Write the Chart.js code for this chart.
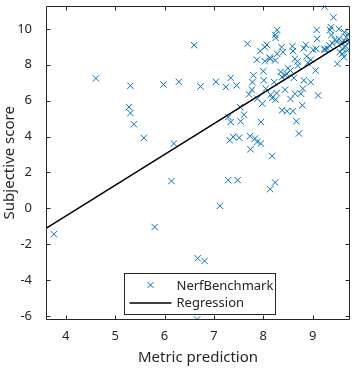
<!DOCTYPE html>
<html><head><meta charset="utf-8">
<script src="https://cdn.jsdelivr.net/npm/chart.js@4"></script>
<style>html,body{margin:0;padding:0;background:#fff}canvas{display:block}</style>
</head><body>
<canvas id="c" width="356" height="369"></canvas>
<script>
const xTicks = [4,5,6,7,8,9];
const yTicks = [-6,-4,-2,0,2,4,6,8,10];
const seriesLabels = ['NerfBenchmark','Regression'];
const benchX = [4.61,5.31,5.28,5.31,5.38,5.58,5.98,6.29,6.19,6.14,3.76,5.80,8.14,7.12,6.67,6.81,6.66,
 9.24,9.42,6.60,7.68,8.28,8.24,8.25,8.07,8.03,7.94,7.87,8.03,8.14,8.24,8.37,8.40,8.28,8.59,8.60,8.86,8.82,8.64,8.69,8.88,8.96,9.01,9.08,9.09,9.06,9.35,9.38,9.53,9.24,9.50,9.60,9.63,
 8.00,7.80,7.78,8.01,8.22,8.38,8.45,8.55,8.62,8.82,8.96,7.04,7.34,6.73,7.24,7.46,7.77,8.05,8.15,8.27,7.71,7.88,7.98,8.18,8.25,8.44,8.55,8.64,8.76,8.80,9.11,
 8.38,8.48,8.60,8.79,8.67,8.72,7.53,7.61,7.54,7.29,7.34,7.95,7.32,7.39,7.51,7.73,7.83,7.88,7.95,7.74,8.18,7.29,7.48,8.24,
 9.49,9.53,9.58,9.63,9.68,9.72,9.73,9.67,9.60,9.55,9.70,9.45,9.40,9.34,9.30,9.37,9.64,8.50,8.70,8.90,8.35,8.13,8.47,9.07,9.24];
const benchY = [7.24,6.83,5.64,5.31,4.68,3.92,6.90,7.05,3.61,1.52,-1.44,-1.04,1.07,0.14,-2.78,-2.93,-6.19,
 11.25,10.64,9.09,9.17,9.94,9.66,9.50,9.11,8.98,8.76,8.28,8.20,8.33,8.24,8.98,8.70,8.61,9.03,8.76,9.11,8.92,8.33,8.18,8.46,8.28,8.83,9.94,9.44,7.68,9.94,9.66,10.00,8.83,8.05,8.61,8.42,
 7.64,7.41,7.03,7.13,7.03,7.31,7.41,7.68,7.27,7.13,7.03,7.05,7.27,6.79,6.76,6.85,6.61,6.67,6.33,6.42,6.35,6.11,5.83,6.14,6.06,6.61,6.09,6.39,6.39,6.67,6.29,
 5.46,5.41,5.41,5.74,4.85,4.17,5.64,5.22,4.85,5.09,4.81,4.81,3.79,3.98,3.94,4.02,3.89,3.70,3.61,3.29,2.92,1.57,1.57,1.44,
 9.29,9.44,9.17,9.35,9.53,9.72,9.26,9.02,8.89,8.70,8.79,9.39,9.20,9.07,8.89,10.09,9.81,7.80,7.95,8.10,7.60,8.39,7.50,8.89,8.89];
const regX = [3.6, 9.755];
const regY = [-1.11, 9.44];

const AX = '#262626';
const BLUE = 'rgb(0,114,189)';
const FONT = "'Noto Sans', sans-serif";

const frame = {
  id: 'frame',
  afterDraw(chart) {
    const ctx = chart.ctx, a = chart.chartArea, x = chart.scales.x, y = chart.scales.y;
    const L = Math.round(a.left) + 0.5, R = Math.round(a.right) - 0.5;
    const T = Math.round(a.top) + 0.5, B = Math.round(a.bottom) - 0.5;
    ctx.save();
    ctx.strokeStyle = AX; ctx.lineWidth = 1;
    ctx.beginPath();
    ctx.rect(L, T, R - L, B - T);
    const tl = 4;
    xTicks.forEach(v => {
      const p = Math.round(x.getPixelForValue(v)) + 0.5;
      ctx.moveTo(p, B); ctx.lineTo(p, B - tl);
      ctx.moveTo(p, T); ctx.lineTo(p, T + tl);
    });
    yTicks.forEach(v => {
      const p = Math.round(y.getPixelForValue(v)) + 0.5;
      ctx.moveTo(L, p); ctx.lineTo(L + tl, p);
      ctx.moveTo(R, p); ctx.lineTo(R - tl, p);
    });
    ctx.stroke();
    // legend
    const bw = 151, bh = 41;
    const bx = Math.round((a.left + a.right) / 2 - bw / 2 + 1) + 0.5;
    const by = Math.round(a.bottom - 6 - bh) + 0.5;
    ctx.fillStyle = '#fff';
    ctx.fillRect(bx, by, bw, bh);
    ctx.strokeStyle = AX;
    ctx.strokeRect(bx, by, bw, bh);
    const r1 = by + 11.5, r2 = by + 29.5;
    const mx = bx + 26, m = 3;
    ctx.strokeStyle = BLUE; ctx.lineWidth = 1;
    ctx.beginPath();
    ctx.moveTo(mx - m, r1 - m); ctx.lineTo(mx + m, r1 + m);
    ctx.moveTo(mx - m, r1 + m); ctx.lineTo(mx + m, r1 - m);
    ctx.stroke();
    ctx.strokeStyle = '#000'; ctx.lineWidth = 1.5;
    ctx.beginPath();
    ctx.moveTo(bx + 5, r2); ctx.lineTo(bx + 47, r2);
    ctx.stroke();
    ctx.fillStyle = AX;
    ctx.font = "13px " + FONT;
    ctx.textBaseline = 'middle';
    ctx.textAlign = 'left';
    ctx.fillText(seriesLabels[0], bx + 52, r1 + 1);
    ctx.fillText(seriesLabels[1], bx + 52, r2);
    ctx.restore();
  }
};

new Chart(document.getElementById('c'), {
  type: 'scatter',
  data: {
    datasets: [
      {
        type: 'line',
        label: seriesLabels[1],
        data: regX.map((v, i) => ({x: v, y: regY[i]})),
        borderColor: '#000', borderWidth: 1.5, pointRadius: 0, fill: false, order: 0
      },
      {
        label: seriesLabels[0],
        data: benchX.map((v, i) => ({x: v, y: benchY[i]})),
        pointStyle: 'crossRot', pointRadius: 4.5, pointBorderWidth: 1,
        borderColor: BLUE, backgroundColor: BLUE, order: 1
      }
    ]
  },
  options: {
    responsive: false, animation: false, devicePixelRatio: 1,
    layout: {padding: {top: 5, right: 6, left: 0, bottom: 0}},
    plugins: {legend: {display: false}, tooltip: {enabled: false}},
    scales: {
      x: {
        type: 'linear', min: 3.6, max: 9.755,
        afterBuildTicks: s => { s.ticks = xTicks.map(v => ({value: v})); },
        afterFit: s => { s.height = 49; s.paddingLeft = 0; s.paddingRight = 0; },
        grid: {display: false}, border: {display: false},
        ticks: {color: AX, font: {family: FONT, size: 13}, padding: 0, maxRotation: 0},
        title: {display: true, text: 'Metric prediction', color: AX, font: {family: FONT, size: 15}, padding: {top: 0, bottom: 2}}
      },
      y: {
        type: 'linear', min: -6.22, max: 11.3,
        afterBuildTicks: s => { s.ticks = yTicks.map(v => ({value: v})); },
        afterFit: s => { s.width = 46; s.paddingTop = 0; s.paddingBottom = 0; },
        grid: {display: false}, border: {display: false},
        ticks: {color: AX, font: {family: FONT, size: 13}, padding: 6},
        title: {display: true, text: 'Subjective score', color: AX, font: {family: FONT, size: 15}, padding: {top: 1, bottom: 0}}
      }
    }
  },
  plugins: [frame]
});
</script>
</body></html>
